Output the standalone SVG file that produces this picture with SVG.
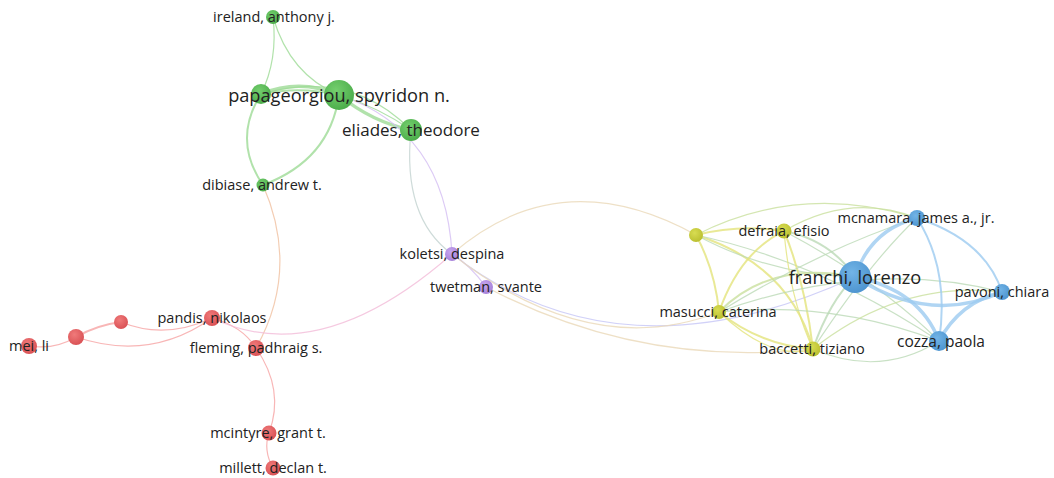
<svg xmlns="http://www.w3.org/2000/svg" width="1054" height="478" viewBox="0 0 1054 478">
  <style>
    .e { fill: none; stroke-linecap: round; }
    .g { stroke: #9edb96; }
    .r { stroke: #f6a4a4; }
    .b { stroke: #9ccaf0; }
    .y { stroke: #e4e47c; }
    .p { stroke: #d3bdf2; }
    .gy { stroke: #c9e09e; }
    .yb { stroke: #bcd9b6; }
    .gp { stroke: #c2d2d0; }
    .rp { stroke: #f2bcd8; }
    .gr { stroke: #f0c0a0; }
    .pb { stroke: #c6c6f6; }
    .py { stroke: #ead8b8; }
    .t1 { stroke-width: 1.2; opacity: 0.8; }
    .t2 { stroke-width: 2; opacity: 0.8; }
    .t3 { stroke-width: 3.5; opacity: 0.8; }
    text { font-family: "Open Sans", "Liberation Sans", sans-serif; fill: #222; text-anchor: middle; }
    .s { font-size: 14.5px; }
    .m { font-size: 15.5px; }
    .mm { font-size: 17px; }
    .l { font-size: 18.2px; }
  </style>
  <defs>
    <radialGradient id="gG" cx="40%" cy="35%" r="70%"><stop offset="0" stop-color="#74cf6e"/><stop offset="1" stop-color="#4aab49"/></radialGradient>
    <radialGradient id="gR" cx="40%" cy="35%" r="70%"><stop offset="0" stop-color="#f07a7a"/><stop offset="1" stop-color="#d84f53"/></radialGradient>
    <radialGradient id="gB" cx="40%" cy="35%" r="70%"><stop offset="0" stop-color="#72b4e6"/><stop offset="1" stop-color="#4c93cf"/></radialGradient>
    <radialGradient id="gY" cx="40%" cy="35%" r="70%"><stop offset="0" stop-color="#d8dc52"/><stop offset="1" stop-color="#b9be2e"/></radialGradient>
    <radialGradient id="gP" cx="40%" cy="35%" r="70%"><stop offset="0" stop-color="#c7a6ef"/><stop offset="1" stop-color="#a47fd8"/></radialGradient>
  </defs>

  <g id="connectors">
    <!-- green cluster -->
    <path class="e g t1" d="M273,17 Q278,60 261,94"/>
    <path class="e g t1" d="M273,17 Q290,75 339,95"/>
    <path class="e g t1" d="M261,94 Q350,68 411,130"/>
    <path class="e g t3" d="M261,94 Q300,78 339,95"/>
    <path class="e g t2" d="M261,94 Q300,86 339,95"/>
    <path class="e g t3" d="M339,95 Q372,122 411,130"/>
    <path class="e g t1" d="M339,95 Q380,108 411,130"/>
    <path class="e g t2" d="M261,94 Q232,140 263,185"/>
    <path class="e g t2" d="M339,95 Q330,160 263,185"/>
    <path class="e gp t1" d="M411,130 Q402,218 452,254"/>
    <path class="e p t1" d="M339,95 Q445,130 452,254"/>
    <path class="e gr t1" d="M263,185 Q300,270 256,348"/>

    <!-- red cluster -->
    <path class="e r t1" d="M212,318 Q242,326 256,348"/>
    <path class="e r t1" d="M212,318 Q165,340 121,322"/>
    <path class="e r t1" d="M212,318 Q150,362 76,337"/>
    <path class="e r t2" d="M121,322 Q97,325 76,337"/>
    <path class="e r t1" d="M76,337 Q55,350 29,346"/>
    <path class="e r t1" d="M256,348 Q285,390 269,433"/>
    <path class="e r t1" d="M269,433 Q263,450 273,468"/>
    <path class="e rp t1" d="M212,318 Q320,370 452,254"/>

    <!-- purple cluster -->
    <path class="e p t1" d="M452,254 Q470,265 486,287"/>
    <path class="e py t1" d="M452,254 Q560,160 696,235"/>
    <path class="e pb t1" d="M452,254 Q620,385 855,277"/>
    <path class="e py t1" d="M452,254 Q590,362 719,312"/>
    <path class="e py t1" d="M486,287 Q640,368 813,349"/>

    <!-- yellow cluster -->
    <path class="e y t2" d="M696,235 Q740,224 784,231"/>
    <path class="e y t2" d="M696,235 Q715,270 719,312"/>
    <path class="e y t2" d="M696,235 Q790,265 813,349"/>
    <path class="e yb t1" d="M696,235 Q770,275 855,277"/>
    <path class="e yb t1" d="M696,235 Q820,262 939,341"/>
    <path class="e gy t1" d="M696,235 Q800,182 917,218"/>
    <path class="e gy t1" d="M784,231 Q850,192 917,218"/>
    <path class="e y t2" d="M784,231 Q740,252 719,312"/>
    <path class="e y t2" d="M784,231 Q805,282 813,349"/>
    <path class="e y t1" d="M784,231 Q790,300 813,349"/>
    <path class="e yb t2" d="M784,231 Q830,240 855,277"/>
    <path class="e yb t1" d="M784,231 Q880,282 939,341"/>
    <path class="e y t2" d="M719,312 Q760,345 813,349"/>
    <path class="e y t1" d="M719,312 Q772,362 813,349"/>
    <path class="e gy t2" d="M719,312 Q770,260 855,277"/>
    <path class="e yb t1" d="M719,312 Q830,300 939,341"/>
    <path class="e yb t1" d="M719,312 Q870,258 1002,292"/>
    <path class="e yb t1" d="M719,312 Q820,250 917,218"/>
    <path class="e yb t2" d="M813,349 Q830,300 855,277"/>
    <path class="e yb t1" d="M813,349 Q880,378 939,341"/>
    <path class="e gy t1" d="M813,349 Q900,280 1002,292"/>
    <path class="e yb t1" d="M813,349 Q870,262 917,218"/>

    <!-- blue cluster -->
    <path class="e b t3" d="M855,277 Q870,230 917,218"/>
    <path class="e b t3" d="M855,277 Q930,325 1002,292"/>
    <path class="e b t3" d="M855,277 Q920,290 939,341"/>
    <path class="e b t2" d="M917,218 Q950,270 939,341"/>
    <path class="e b t2" d="M917,218 Q985,240 1002,292"/>
    <path class="e b t3" d="M1002,292 Q960,302 939,341"/>
  </g>

  <g id="node-ireland"><circle cx="273" cy="17" r="7" fill="url(#gG)"/><text class="s" x="274" y="22">ireland, anthony j.</text></g>
  <g id="node-g2"><circle cx="261" cy="94" r="10" fill="url(#gG)"/></g>
  <g id="node-papageorgiou"><circle cx="339" cy="95" r="15" fill="url(#gG)"/><text class="l" x="339" y="101.5">papageorgiou, spyridon n.</text></g>
  <g id="node-eliades"><circle cx="411" cy="130" r="11" fill="url(#gG)"/><text class="mm" x="411" y="136">eliades, theodore</text></g>
  <g id="node-dibiase"><circle cx="263" cy="185" r="6.5" fill="url(#gG)"/><text class="s" x="262" y="190">dibiase, andrew t.</text></g>

  <g id="node-koletsi"><circle cx="452" cy="254" r="7" fill="url(#gP)"/><text class="s" x="452" y="259">koletsi, despina</text></g>
  <g id="node-twetman"><circle cx="486" cy="287" r="7" fill="url(#gP)"/><text class="s" x="486" y="292">twetman, svante</text></g>

  <g id="node-pandis"><circle cx="212" cy="318" r="8" fill="url(#gR)"/><text class="s" x="212" y="323">pandis, nikolaos</text></g>
  <g id="node-fleming"><circle cx="256" cy="348" r="8" fill="url(#gR)"/><text class="s" x="256" y="353">fleming, padhraig s.</text></g>
  <g id="node-r3"><circle cx="121" cy="322" r="7" fill="url(#gR)"/></g>
  <g id="node-r4"><circle cx="76" cy="337" r="8" fill="url(#gR)"/></g>
  <g id="node-mei"><circle cx="29" cy="346" r="8" fill="url(#gR)"/><text class="s" x="29" y="351">mei, li</text></g>
  <g id="node-mcintyre"><circle cx="269" cy="433" r="7.5" fill="url(#gR)"/><text class="s" x="268" y="438">mcintyre, grant t.</text></g>
  <g id="node-millett"><circle cx="273" cy="468" r="7.5" fill="url(#gR)"/><text class="s" x="273" y="473">millett, declan t.</text></g>

  <g id="node-y1"><circle cx="696" cy="235" r="7" fill="url(#gY)"/></g>
  <g id="node-defraia"><circle cx="784" cy="231" r="7.5" fill="url(#gY)"/><text class="s" x="784" y="236">defraia, efisio</text></g>
  <g id="node-masucci"><circle cx="719" cy="312" r="7" fill="url(#gY)"/><text class="s" x="718" y="317">masucci, caterina</text></g>
  <g id="node-baccetti"><circle cx="813" cy="349" r="7.5" fill="url(#gY)"/><text class="s" x="812" y="354">baccetti, tiziano</text></g>

  <g id="node-franchi"><circle cx="855" cy="277" r="16" fill="url(#gB)"/><text class="l" x="855" y="283.5">franchi, lorenzo</text></g>
  <g id="node-mcnamara"><circle cx="917" cy="218" r="8" fill="url(#gB)"/><text class="s" x="916" y="223">mcnamara, james a., jr.</text></g>
  <g id="node-pavoni"><circle cx="1002" cy="292" r="8" fill="url(#gB)"/><text class="s" x="1002" y="297">pavoni, chiara</text></g>
  <g id="node-cozza"><circle cx="939" cy="341" r="10" fill="url(#gB)"/><text class="m" x="941" y="347">cozza, paola</text></g>
</svg>
